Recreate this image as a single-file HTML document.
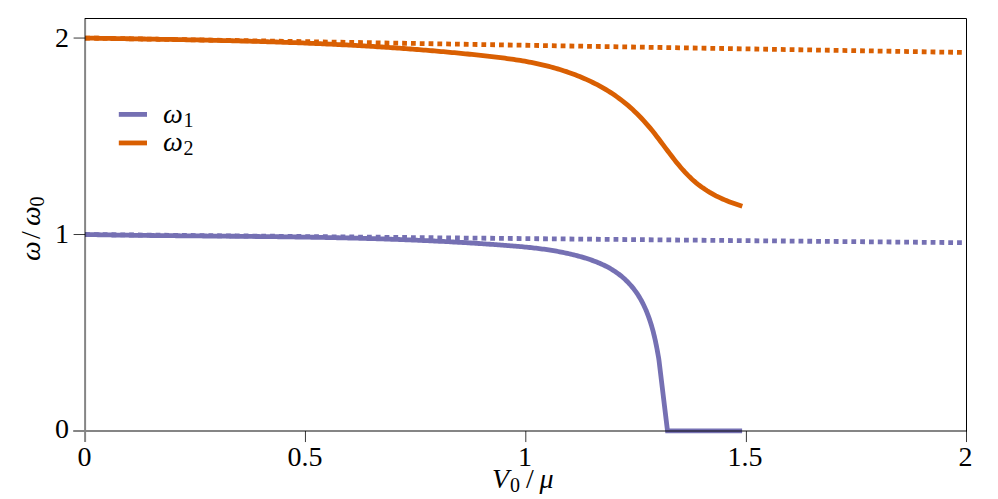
<!DOCTYPE html>
<html lang="en"><head><meta charset="utf-8"><title>Mode frequencies vs V0/mu</title>
<style>
html,body{margin:0;padding:0;background:#fff;}
body{width:998px;height:499px;overflow:hidden;font-family:"Liberation Serif",serif;}
svg{display:block;position:absolute;left:0;top:0;}
svg text{font-family:"Liberation Serif",serif;font-size:28px;fill:#000;}
</style></head><body>
<svg width="998" height="499" viewBox="0 0 998 499">
<rect x="0" y="0" width="998" height="499" fill="#fff"/>
<!-- data curves -->
<g fill="none" stroke-width="4.8" stroke-linejoin="miter" stroke-linecap="butt">
<path d="M85.10,234.50 L965.60,242.70" stroke="#7570b3" stroke-dasharray="4.804 4.004"/>
<path d="M85.10,38.05 L965.60,52.48" stroke="#d95f02" stroke-dasharray="4.804 4.004"/>
<path d="M85.10,234.50 L86.69,234.53 L88.29,234.56 L89.88,234.59 L91.48,234.62 L93.07,234.65 L94.66,234.68 L96.26,234.71 L97.85,234.74 L99.45,234.77 L101.04,234.79 L102.63,234.82 L104.23,234.85 L105.82,234.87 L107.42,234.90 L109.01,234.93 L110.61,234.95 L112.20,234.98 L113.79,235.00 L115.39,235.02 L116.98,235.05 L118.58,235.07 L120.17,235.09 L121.77,235.12 L123.36,235.14 L124.95,235.16 L126.55,235.18 L128.14,235.20 L129.74,235.23 L131.33,235.25 L132.93,235.27 L134.52,235.29 L136.12,235.31 L137.71,235.33 L139.30,235.35 L140.90,235.37 L142.49,235.39 L144.09,235.40 L145.68,235.42 L147.28,235.44 L148.87,235.46 L150.47,235.48 L152.06,235.50 L153.66,235.51 L155.25,235.53 L156.85,235.55 L158.44,235.56 L160.04,235.58 L161.63,235.60 L163.22,235.61 L164.82,235.63 L166.41,235.65 L168.01,235.66 L169.60,235.68 L171.20,235.69 L172.79,235.71 L174.39,235.72 L175.98,235.74 L177.58,235.75 L179.17,235.77 L180.77,235.78 L182.36,235.80 L183.96,235.81 L185.55,235.83 L187.15,235.84 L188.74,235.86 L190.34,235.87 L191.93,235.89 L193.53,235.90 L195.12,235.91 L196.72,235.93 L198.31,235.94 L199.91,235.96 L201.50,235.97 L203.10,235.99 L204.69,236.00 L206.29,236.01 L207.88,236.03 L209.48,236.04 L211.07,236.06 L212.67,236.07 L214.26,236.08 L215.86,236.10 L217.45,236.11 L219.05,236.13 L220.64,236.14 L222.24,236.16 L223.83,236.17 L225.43,236.18 L227.02,236.20 L228.62,236.21 L230.21,236.23 L231.81,236.24 L233.40,236.26 L235.00,236.27 L236.59,236.29 L238.19,236.30 L239.78,236.32 L241.38,236.33 L242.97,236.35 L244.57,236.37 L246.16,236.38 L247.76,236.40 L249.35,236.41 L250.95,236.43 L252.54,236.45 L254.14,236.46 L255.73,236.48 L257.33,236.50 L258.92,236.52 L260.52,236.53 L262.11,236.55 L263.70,236.57 L265.30,236.59 L266.89,236.61 L268.49,236.62 L270.08,236.64 L271.68,236.66 L273.27,236.68 L274.87,236.70 L276.46,236.72 L278.06,236.74 L279.65,236.76 L281.25,236.78 L282.84,236.80 L284.44,236.82 L286.03,236.85 L287.63,236.87 L289.22,236.89 L290.82,236.91 L292.41,236.93 L294.01,236.96 L295.60,236.98 L297.20,237.01 L298.79,237.03 L300.39,237.05 L301.98,237.08 L303.57,237.10 L305.17,237.13 L306.76,237.16 L308.36,237.18 L309.95,237.21 L311.55,237.24 L313.14,237.26 L314.74,237.29 L316.33,237.32 L317.93,237.35 L319.52,237.38 L321.11,237.41 L322.71,237.44 L324.30,237.47 L325.90,237.50 L327.49,237.53 L329.09,237.56 L330.68,237.59 L332.28,237.63 L333.87,237.66 L335.46,237.70 L337.06,237.73 L338.65,237.76 L340.25,237.80 L341.84,237.84 L343.44,237.87 L345.03,237.91 L346.62,237.95 L348.22,237.98 L349.81,238.02 L351.41,238.06 L353.00,238.10 L354.59,238.14 L356.19,238.18 L357.78,238.22 L359.38,238.27 L360.97,238.31 L362.56,238.35 L364.16,238.39 L365.75,238.44 L367.35,238.48 L368.94,238.53 L370.53,238.57 L372.13,238.62 L373.72,238.67 L375.31,238.72 L376.91,238.77 L378.50,238.81 L380.10,238.86 L381.69,238.92 L383.28,238.97 L384.88,239.02 L386.47,239.07 L388.06,239.12 L389.66,239.18 L391.25,239.23 L392.84,239.29 L394.44,239.34 L396.03,239.40 L397.62,239.46 L399.22,239.52 L400.81,239.58 L402.40,239.64 L404.00,239.70 L405.59,239.76 L407.18,239.82 L408.78,239.88 L410.37,239.95 L411.96,240.01 L413.56,240.08 L415.15,240.14 L416.74,240.21 L418.33,240.28 L419.93,240.34 L421.52,240.41 L423.11,240.48 L424.71,240.55 L426.30,240.63 L427.89,240.70 L429.48,240.77 L431.08,240.85 L432.67,240.92 L434.26,241.00 L435.85,241.07 L437.45,241.15 L439.04,241.23 L440.63,241.31 L442.22,241.39 L443.82,241.47 L445.41,241.55 L447.00,241.64 L448.59,241.72 L450.18,241.80 L451.78,241.89 L453.37,241.98 L454.96,242.06 L456.55,242.15 L458.15,242.24 L459.74,242.33 L461.33,242.43 L462.92,242.52 L464.51,242.61 L466.10,242.71 L467.70,242.80 L469.29,242.90 L470.88,242.99 L472.47,243.09 L474.06,243.19 L475.65,243.29 L477.25,243.39 L478.84,243.50 L480.43,243.60 L482.02,243.71 L483.61,243.81 L485.20,243.92 L486.79,244.03 L488.38,244.13 L489.98,244.24 L491.57,244.36 L493.16,244.47 L494.75,244.58 L496.34,244.70 L497.93,244.81 L499.52,244.93 L501.11,245.05 L502.70,245.16 L504.29,245.28 L505.88,245.41 L507.47,245.53 L509.06,245.65 L510.65,245.78 L512.24,245.91 L513.83,246.04 L515.42,246.17 L517.01,246.30 L518.60,246.44 L520.19,246.58 L521.78,246.73 L523.37,246.88 L524.95,247.03 L526.54,247.19 L528.13,247.35 L529.71,247.51 L531.30,247.68 L532.88,247.86 L534.47,248.04 L536.05,248.22 L537.63,248.42 L539.21,248.61 L540.80,248.81 L542.38,249.02 L543.96,249.24 L545.53,249.46 L547.11,249.69 L548.69,249.93 L550.26,250.17 L551.84,250.42 L553.41,250.68 L554.98,250.95 L556.56,251.22 L558.13,251.51 L559.69,251.80 L561.26,252.10 L562.83,252.41 L564.39,252.73 L565.96,253.06 L567.52,253.40 L569.08,253.75 L570.64,254.11 L572.20,254.48 L573.76,254.86 L575.31,255.25 L576.87,255.65 L578.42,256.07 L579.97,256.49 L581.52,256.93 L583.07,257.38 L584.61,257.84 L586.15,258.32 L587.69,258.80 L589.22,259.31 L590.74,259.83 L592.26,260.36 L593.77,260.92 L595.27,261.48 L596.77,262.07 L598.25,262.67 L599.73,263.30 L601.19,263.94 L602.64,264.60 L604.09,265.28 L605.51,265.98 L606.93,266.71 L608.33,267.45 L609.71,268.22 L611.08,269.01 L612.44,269.83 L613.77,270.66 L615.09,271.53 L616.39,272.42 L617.68,273.33 L618.94,274.27 L620.18,275.24 L621.40,276.23 L622.61,277.24 L623.79,278.28 L624.95,279.34 L626.09,280.42 L627.22,281.53 L628.31,282.65 L629.39,283.80 L630.45,284.97 L631.48,286.16 L632.49,287.37 L633.48,288.60 L634.45,289.85 L635.39,291.12 L636.31,292.41 L637.20,293.71 L638.08,295.03 L638.92,296.37 L639.75,297.73 L640.55,299.10 L641.33,300.49 L642.08,301.89 L642.82,303.31 L643.53,304.74 L644.22,306.18 L644.90,307.63 L645.55,309.10 L646.18,310.57 L646.80,312.06 L647.39,313.55 L647.97,315.06 L648.53,316.57 L649.07,318.08 L649.60,319.61 L650.11,321.14 L650.61,322.68 L651.08,324.22 L651.55,325.76 L652.00,327.31 L652.44,328.86 L652.86,330.42 L653.27,331.98 L653.67,333.54 L654.05,335.10 L654.42,336.66 L654.79,338.23 L655.14,339.79 L655.48,341.36 L655.81,342.92 L656.13,344.49 L656.45,346.05 L656.75,347.61 L657.05,349.17 L657.34,350.73 L657.62,352.28 L657.90,353.84 L658.17,355.38 L658.44,356.93 L658.70,358.47 L658.95,360.00 L667.50,430.80 L742.10,430.80" stroke="#7570b3"/>
<path d="M85.10,38.05 L87.30,38.09 L89.50,38.12 L91.69,38.16 L93.89,38.20 L96.09,38.24 L98.29,38.27 L100.49,38.31 L102.68,38.34 L104.88,38.38 L107.08,38.42 L109.28,38.45 L111.48,38.49 L113.67,38.52 L115.87,38.56 L118.07,38.59 L120.27,38.63 L122.47,38.66 L124.66,38.70 L126.86,38.74 L129.06,38.77 L131.26,38.81 L133.46,38.84 L135.65,38.88 L137.85,38.91 L140.05,38.95 L142.25,38.99 L144.45,39.02 L146.64,39.06 L148.84,39.09 L151.04,39.13 L153.24,39.17 L155.44,39.21 L157.63,39.24 L159.83,39.28 L162.03,39.32 L164.23,39.36 L166.43,39.39 L168.62,39.43 L170.82,39.47 L173.02,39.51 L175.22,39.55 L177.42,39.59 L179.61,39.63 L181.81,39.67 L184.01,39.71 L186.21,39.76 L188.41,39.80 L190.60,39.84 L192.80,39.88 L195.00,39.93 L197.20,39.97 L199.40,40.02 L201.59,40.06 L203.79,40.11 L205.99,40.15 L208.19,40.20 L210.39,40.25 L212.58,40.30 L214.78,40.34 L216.98,40.39 L219.18,40.44 L221.38,40.49 L223.57,40.55 L225.77,40.60 L227.97,40.65 L230.17,40.70 L232.37,40.76 L234.56,40.81 L236.76,40.87 L238.96,40.92 L241.16,40.98 L243.36,41.04 L245.55,41.10 L247.75,41.16 L249.95,41.22 L252.15,41.28 L254.35,41.34 L256.54,41.41 L258.74,41.47 L260.94,41.54 L263.14,41.60 L265.34,41.67 L267.53,41.74 L269.73,41.81 L271.93,41.88 L274.13,41.95 L276.33,42.02 L278.52,42.09 L280.72,42.17 L282.92,42.24 L285.12,42.32 L287.32,42.40 L289.51,42.48 L291.71,42.56 L293.91,42.64 L296.11,42.72 L298.31,42.80 L300.50,42.89 L302.70,42.97 L304.90,43.06 L307.10,43.15 L309.30,43.24 L311.49,43.33 L313.69,43.42 L315.89,43.52 L318.09,43.61 L320.29,43.71 L322.48,43.80 L324.68,43.90 L326.88,44.00 L329.08,44.11 L331.28,44.21 L333.47,44.31 L335.67,44.42 L337.87,44.53 L340.07,44.64 L342.27,44.75 L344.46,44.86 L346.66,44.97 L348.86,45.09 L351.06,45.20 L353.26,45.32 L355.45,45.44 L357.65,45.56 L359.85,45.69 L362.05,45.81 L364.25,45.94 L366.44,46.07 L368.64,46.20 L370.84,46.33 L373.04,46.46 L375.24,46.59 L377.43,46.73 L379.63,46.87 L381.83,47.01 L384.03,47.15 L386.23,47.30 L388.42,47.44 L390.62,47.59 L392.82,47.74 L395.02,47.89 L397.22,48.04 L399.41,48.20 L401.61,48.35 L403.81,48.51 L406.01,48.67 L408.21,48.83 L410.40,49.00 L412.60,49.17 L414.80,49.33 L417.00,49.50 L419.19,49.68 L421.39,49.85 L423.59,50.03 L425.79,50.21 L427.99,50.39 L430.18,50.57 L432.38,50.75 L434.58,50.94 L436.78,51.13 L438.98,51.32 L441.17,51.52 L443.37,51.71 L445.57,51.91 L447.77,52.11 L449.97,52.31 L452.16,52.52 L454.36,52.72 L456.56,52.93 L458.76,53.14 L460.96,53.36 L463.15,53.57 L465.35,53.79 L467.55,54.01 L469.75,54.24 L471.95,54.46 L474.14,54.69 L476.34,54.92 L478.54,55.15 L480.74,55.39 L482.94,55.63 L485.13,55.87 L487.33,56.11 L489.53,56.36 L491.73,56.61 L493.93,56.86 L496.12,57.12 L498.32,57.39 L500.52,57.66 L502.72,57.94 L504.92,58.23 L507.11,58.52 L509.31,58.82 L511.51,59.13 L513.71,59.46 L515.91,59.79 L518.10,60.13 L520.30,60.49 L522.50,60.85 L524.70,61.23 L526.90,61.63 L529.09,62.03 L531.29,62.46 L533.49,62.89 L535.69,63.34 L537.89,63.81 L540.08,64.30 L542.28,64.80 L544.48,65.32 L546.68,65.86 L548.88,66.42 L551.07,66.99 L553.27,67.59 L555.47,68.21 L557.67,68.85 L559.87,69.51 L562.06,70.20 L564.26,70.91 L566.46,71.64 L568.66,72.40 L570.86,73.18 L573.05,73.98 L575.25,74.82 L577.45,75.68 L579.65,76.56 L581.85,77.48 L584.04,78.42 L586.24,79.40 L588.44,80.40 L590.64,81.43 L592.84,82.49 L595.03,83.59 L597.23,84.72 L599.43,85.89 L601.63,87.10 L603.83,88.35 L606.02,89.65 L608.22,90.99 L610.42,92.38 L612.62,93.81 L614.82,95.30 L617.01,96.85 L619.21,98.45 L621.41,100.11 L623.61,101.82 L625.81,103.61 L628.00,105.45 L630.20,107.36 L632.40,109.34 L634.60,111.40 L636.80,113.52 L638.99,115.72 L641.19,117.99 L643.39,120.35 L645.59,122.78 L647.79,125.30 L649.98,127.91 L652.18,130.59 L654.38,133.36 L656.58,136.18 L658.78,139.05 L660.97,141.96 L663.17,144.88 L665.37,147.82 L667.57,150.75 L669.77,153.66 L671.96,156.53 L674.16,159.37 L676.36,162.14 L678.56,164.85 L680.76,167.46 L682.95,169.98 L685.15,172.39 L687.35,174.69 L689.55,176.87 L691.75,178.94 L693.94,180.91 L696.14,182.78 L698.34,184.56 L700.54,186.24 L702.74,187.84 L704.93,189.35 L707.13,190.79 L709.33,192.15 L711.53,193.43 L713.73,194.65 L715.92,195.81 L718.12,196.91 L720.32,197.95 L722.52,198.94 L724.72,199.88 L726.91,200.78 L729.11,201.64 L731.31,202.46 L733.51,203.26 L735.71,204.02 L737.90,204.77 L740.10,205.49 L742.30,206.20" stroke="#d95f02"/>
</g>
<!-- axes -->
<g stroke="#000" stroke-opacity="0.48" stroke-width="2" fill="none">
<path d="M85.10,18.50 L85.10,442.10 M73.20,431.00 L966.50,431.00"/>
</g>
<g stroke="#000" stroke-opacity="0.78" stroke-width="1" fill="none">
<line x1="305.45" y1="431.00" x2="305.45" y2="442.05"/>
<line x1="525.80" y1="431.00" x2="525.80" y2="442.05"/>
<line x1="746.40" y1="431.00" x2="746.40" y2="442.05"/>
<line x1="966.50" y1="431.00" x2="966.50" y2="442.05"/>
<line x1="73.60" y1="234.53" x2="85.10" y2="234.53"/>
<line x1="73.60" y1="38.05" x2="85.10" y2="38.05"/>
</g>
<g stroke="#000" stroke-width="1.0" fill="none">
<path d="M84.80,18.50 L966.50,18.50 L966.50,431.60"/>
</g>
<!-- legend -->
<g stroke-width="4.8" fill="none">
<line x1="118.8" y1="114.4" x2="147" y2="114.4" stroke="#7570b3"/>
<line x1="118.8" y1="142.95" x2="147" y2="142.95" stroke="#d95f02"/>
</g>
<!-- text content -->
<g>
<text x="84.6" y="465.7" text-anchor="middle">0</text>
<text x="305.0" y="465.7" text-anchor="middle">0.5</text>
<text x="525.0" y="465.7" text-anchor="middle">1</text>
<text x="745.0" y="465.7" text-anchor="middle">1.5</text>
<text x="965.5" y="465.9" text-anchor="middle">2</text>
<text x="69" y="438.05" text-anchor="end">0</text>
<text x="69" y="242.68" text-anchor="end">1</text>
<text x="69" y="46.85" text-anchor="end">2</text>
<text x="163.0" y="122.8" text-anchor="start" font-style="italic" font-size="26">ω<tspan x="183.5" y="126.8" font-size="20" font-style="normal">1</tspan></text>
<text x="163.0" y="151.3" text-anchor="start" font-style="italic" font-size="26">ω<tspan x="183.5" y="155.0" font-size="20" font-style="normal">2</tspan></text>
<text x="491.9" y="488.3" text-anchor="start" font-style="italic">V<tspan x="510" y="492.3" font-size="20" font-style="normal">0</tspan><tspan x="526" y="488.3" font-style="normal">/</tspan><tspan x="539.5" y="488.3">μ</tspan></text>
<text transform="translate(40.0,261.1) rotate(-90)" font-style="italic">ω<tspan x="22" y="0" font-style="normal">/</tspan><tspan x="35.1" y="0">ω</tspan><tspan x="54.5" y="4" font-size="20" font-style="normal">0</tspan></text>
</g>
</svg>
</body></html>
